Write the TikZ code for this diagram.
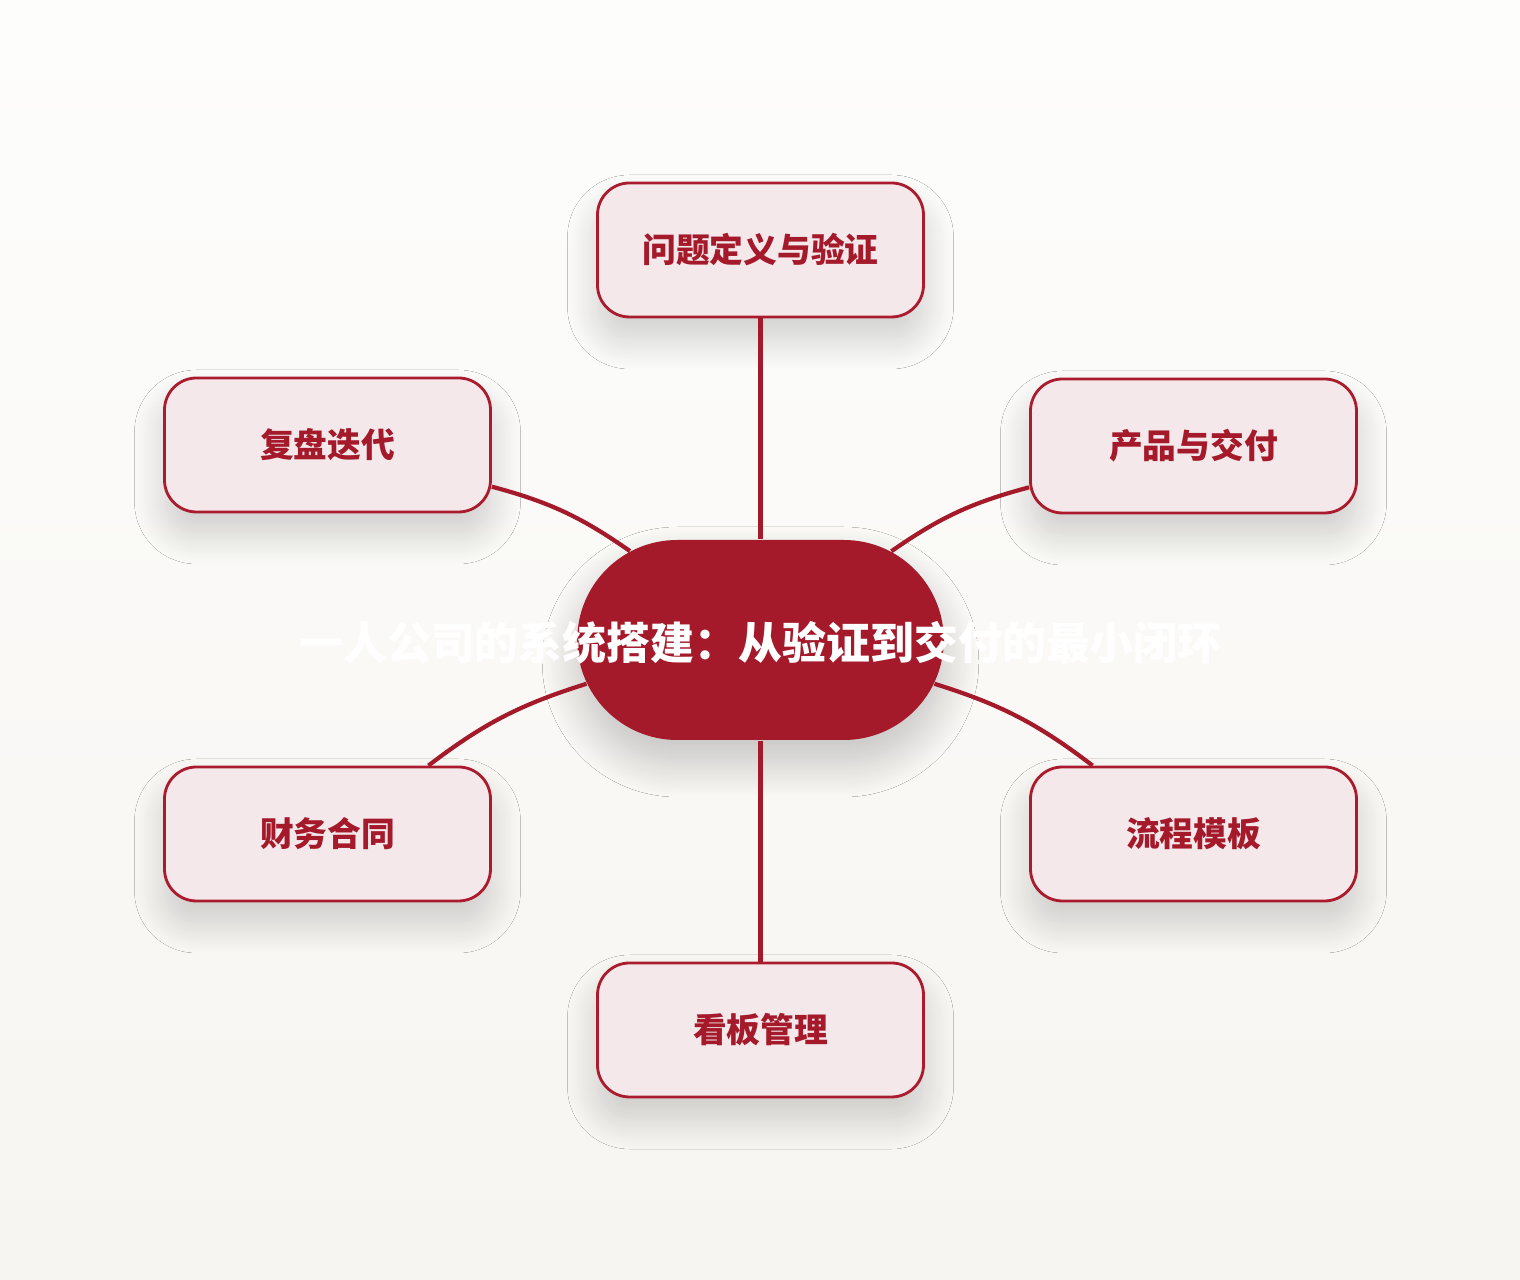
\documentclass[tikz,border=0pt]{standalone}
\usepackage{fontspec}
\setmainfont{Noto Sans CJK SC}
\usepackage{tikz}
\usetikzlibrary{positioning}
\usetikzlibrary{calc}
\usetikzlibrary{shapes.misc}
\usetikzlibrary{shadows.blur}
\definecolor{hubred}{RGB}{165,26,42}
\definecolor{edgered}{RGB}{170,28,45}
\definecolor{topicfill}{RGB}{244,232,235}
\definecolor{bgtop}{RGB}{253,253,252}
\definecolor{bgbottom}{RGB}{247,245,241}
\tikzstyle{topic} = [rectangle, draw=edgered, line width=0.8pt, fill=topicfill, rounded corners=0.32cm, minimum width=3.26cm, minimum height=1.34cm, text=hubred, font=\bfseries\fontsize{9.6pt}{11pt}\selectfont, blur shadow={shadow xshift=0cm, shadow yshift=-0.22cm, shadow blur radius=0.3cm, shadow blur steps=20, shadow opacity=18}]
\tikzstyle{hub} = [rounded rectangle, fill=hubred, minimum width=3.9cm, minimum height=2cm, blur shadow={shadow xshift=0cm, shadow yshift=-0.22cm, shadow blur radius=0.35cm, shadow blur steps=20, shadow opacity=22}]
\tikzstyle{link} = [draw=hubred, line width=1.2pt]

\begin{document}
\begin{tikzpicture}[font=\bfseries]
	\shade[top color=bgtop, bottom color=bgbottom] (0,0) rectangle (15.2,-12.8);
	\useasboundingbox (0,0) rectangle (15.2,-12.8);

	\node[hub](Hub) at (7.605,-6.4){};

	\node[topic] at([yshift=3.9cm]Hub.center)(Topic-Q){问题定义与验证};
	\node[topic] at([xshift=-4.33cm, yshift=1.95cm]Hub.center)(Topic-R){复盘迭代};
	\node[topic] at([xshift=4.33cm, yshift=1.94cm]Hub.center)(Topic-P){产品与交付};
	\node[topic] at([xshift=-4.33cm, yshift=-1.94cm]Hub.center)(Topic-F){财务合同};
	\node[topic] at([xshift=4.33cm, yshift=-1.94cm]Hub.center)(Topic-W){流程模板};
	\node[topic] at([yshift=-3.9cm]Hub.center)(Topic-K){看板管理};

	\draw[link] (Hub) -- (Topic-Q);
	\draw[link] (Hub) -- (Topic-K);
	\draw[link] (Hub) to[bend right=10] (Topic-R);
	\draw[link] (Hub) to[bend left=10] (Topic-P);
	\draw[link] (Hub) to[bend right=10] (Topic-F);
	\draw[link] (Hub) to[bend left=10] (Topic-W);

	\node[text=white, font=\bfseries\fontsize{12.5pt}{14pt}\selectfont] at([yshift=-0.03cm]Hub.center)(Title){一人公司的系统搭建：从验证到交付的最小闭环};
\end{tikzpicture}
\end{document}
